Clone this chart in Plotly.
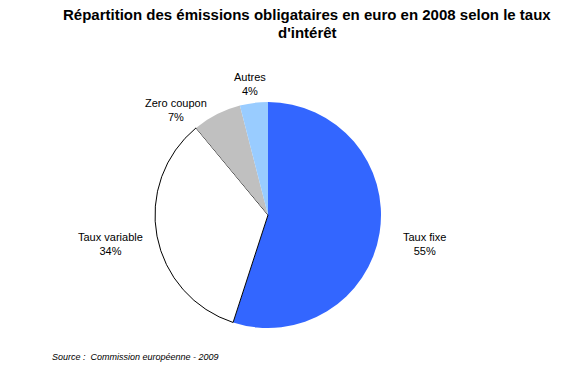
import plotly.graph_objects as go

categories = ["Taux fixe", "Taux variable", "Zero coupon", "Autres"]
values = [55, 34, 7, 4]
colors = ["#3366FF", "#FFFFFF", "#C0C0C0", "#99CCFF"]
line_widths = [0, 1, 0, 0]

title_lines = ["Répartition des émissions obligataires en euro en 2008 selon le taux", "d'intérêt"]
source_text = "Source :  Commission européenne - 2009"

W, H = 566, 382
cx, cy, r = 268, 215, 113

# label anchor positions in pixels (layout only)
label_px = [(424, 244), (110, 244), (176, 110), (250, 84)]
title_px = [(307, 15), (307, 33)]

fig = go.Figure(go.Pie(
    labels=categories, values=values, sort=False, direction="clockwise", rotation=0,
    marker=dict(colors=colors, line=dict(color="black", width=line_widths)),
    textinfo="none", hoverinfo="label+percent", showlegend=False,
    domain=dict(x=[(cx - r) / W, (cx + r) / W], y=[1 - (cy + r) / H, 1 - (cy - r) / H]),
))

total = sum(values)
font = dict(family="Liberation Sans, Arial", size=11, color="black")
for (px, py), c, v in zip(label_px, categories, values):
    fig.add_annotation(x=px / W, y=1 - py / H, xref="paper", yref="paper", showarrow=False,
                       xanchor="center", yanchor="middle",
                       text=f"{c}<br>{round(100 * v / total)}%", align="center", font=font)

fig.add_annotation(x=50 / W, y=1 - 357 / H, xref="paper", yref="paper", showarrow=False,
                   xanchor="left", yanchor="middle", text=f"<i>{source_text}</i>",
                   font=dict(family="Liberation Sans, Arial", size=9, color="black"))

for (px, py), t in zip(title_px, title_lines):
    fig.add_annotation(x=px / W, y=1 - py / H, xref="paper", yref="paper", showarrow=False,
                       xanchor="center", yanchor="middle", text=f"<b>{t}</b>",
                       font=dict(family="Liberation Sans, Arial", size=15, color="black"))

fig.update_layout(
    width=W, height=H, margin=dict(l=0, r=0, t=0, b=0),
    paper_bgcolor="white", plot_bgcolor="white",
)

fig.write_html("out.html", config={"displayModeBar": False},
               post_script="document.body.style.margin='0';")
